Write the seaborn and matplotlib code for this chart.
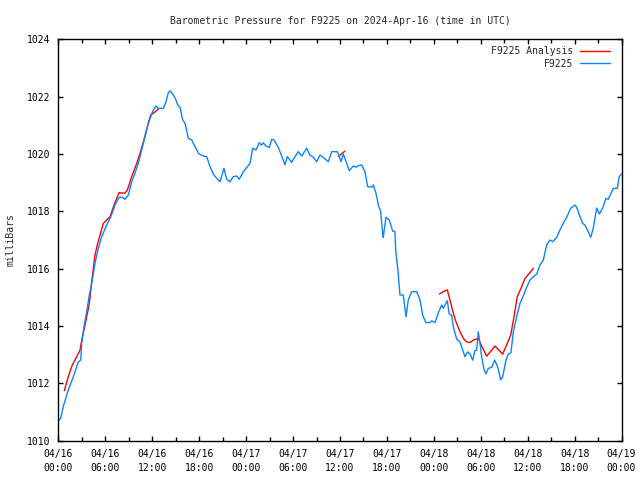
import pandas as pd
import numpy as np
import matplotlib.pyplot as plt
import seaborn as sns

# hours since 2024-04-16 00:00 UTC, pressure in mbar
obs_hours = [0.0, 0.28, 0.61, 1.25, 1.89, 2.53, 2.84, 2.97, 3.26, 3.61, 3.94, 4.25, 4.67, 5.09, 5.52,
             6.16, 6.68, 7.23, 7.74, 8.21, 8.50, 8.93, 9.36, 9.78, 10.20, 10.64, 11.06, 11.48,
             12.12, 12.47, 12.76, 13.40, 13.75, 14.04, 14.26, 14.68, 15.03, 15.24, 15.54, 15.88,
             16.18, 16.60, 17.03, 17.46, 17.97, 18.52, 18.95, 19.37, 19.80, 20.23, 20.65, 21.00,
             21.16, 21.51, 21.93, 22.35, 22.79, 23.12, 23.63, 24.49, 24.83, 25.26, 25.68, 25.98,
             26.19, 26.53, 26.96, 27.26, 27.56, 28.11, 28.54, 28.96, 29.26, 29.82, 30.11, 30.66,
             31.10, 31.74, 32.16, 32.51, 33.02, 33.44, 33.99, 34.50, 34.94, 35.65, 35.91, 36.13,
             36.42, 36.85, 37.19, 37.70, 38.04, 38.34, 38.77, 39.19, 39.54, 40.05, 40.26, 40.60,
             40.90, 41.20, 41.46, 41.53, 41.88, 42.30, 42.74, 43.03, 43.12, 43.41, 43.67, 44.09,
             44.44, 44.73, 45.17, 45.81, 46.23, 46.57, 46.99, 47.51, 47.72, 48.15, 48.57, 49.00,
             49.21, 49.72, 49.97, 50.28, 50.49, 50.92, 51.34, 51.69, 51.98, 52.33, 52.62, 52.97,
             53.26, 53.48, 53.68, 53.90, 54.12, 54.41, 54.67, 54.96, 55.40, 55.78, 56.16, 56.55,
             56.80, 57.23, 57.52, 57.86, 58.16, 58.59, 59.02, 59.44, 59.87, 60.29, 60.72, 61.15,
             61.57, 62.00, 62.43, 62.85, 63.20, 63.71, 64.13, 64.55, 64.99, 65.50, 66.05, 66.27,
             66.69, 67.03, 67.33, 67.75, 68.06, 68.39, 68.82, 69.16, 69.59, 70.01, 70.31, 70.61,
             70.95, 71.46, 71.71, 72.0]
obs_mbar = [1010.70, 1010.78, 1011.19, 1011.77, 1012.23, 1012.75, 1012.81, 1013.40, 1013.98, 1014.50,
            1015.08, 1015.49, 1016.19, 1016.71, 1017.11, 1017.52, 1017.81, 1018.22, 1018.49, 1018.49,
            1018.42, 1018.57, 1019.03, 1019.33, 1019.67, 1020.14, 1020.60, 1021.07, 1021.53, 1021.67,
            1021.59, 1021.59, 1021.82, 1022.14, 1022.20, 1022.06, 1021.88, 1021.71, 1021.63, 1021.19,
            1021.07, 1020.55, 1020.49, 1020.25, 1020.00, 1019.93, 1019.91, 1019.56, 1019.30, 1019.15,
            1019.03, 1019.35, 1019.50, 1019.12, 1019.03, 1019.21, 1019.23, 1019.12, 1019.38, 1019.67,
            1020.20, 1020.14, 1020.39, 1020.31, 1020.39, 1020.28, 1020.23, 1020.51, 1020.49, 1020.23,
            1019.93, 1019.62, 1019.91, 1019.71, 1019.85, 1020.08, 1019.93, 1020.20, 1019.96, 1019.91,
            1019.73, 1019.96, 1019.85, 1019.73, 1020.08, 1020.08, 1019.91, 1019.73, 1020.00, 1019.67,
            1019.42, 1019.58, 1019.54, 1019.59, 1019.62, 1019.38, 1018.86, 1018.84, 1018.92, 1018.63,
            1018.22, 1017.99, 1017.23, 1017.09, 1017.79, 1017.70, 1017.31, 1017.29, 1016.65, 1015.95,
            1015.08, 1015.08, 1014.32, 1014.91, 1015.20, 1015.20, 1014.91, 1014.38, 1014.12, 1014.12,
            1014.18, 1014.12, 1014.46, 1014.73, 1014.62, 1014.88, 1014.42, 1014.38, 1013.98, 1013.54,
            1013.45, 1013.16, 1012.93, 1013.10, 1013.02, 1012.81, 1013.14, 1013.16, 1013.80, 1013.40,
            1012.93, 1012.49, 1012.33, 1012.52, 1012.56, 1012.81, 1012.58, 1012.12, 1012.23, 1012.81,
            1013.02, 1013.07, 1013.80, 1014.32, 1014.79, 1015.05, 1015.35, 1015.60, 1015.72, 1015.81,
            1016.13, 1016.30, 1016.83, 1017.00, 1016.94, 1017.09, 1017.35, 1017.58, 1017.79, 1018.11,
            1018.22, 1018.14, 1017.81, 1017.58, 1017.52, 1017.29, 1017.09, 1017.41, 1018.11, 1017.91,
            1018.11, 1018.45, 1018.42, 1018.60, 1018.80, 1018.80, 1019.21, 1019.30]

# analysis runs (three separate pieces)
ana1_hours = [0.74, 1.25, 1.76, 2.33, 2.75, 2.97, 3.30, 3.61, 3.94, 4.25, 4.67, 4.99, 5.31, 5.73,
              6.59, 7.10, 7.74, 8.50, 8.80, 9.36, 10.00, 10.42, 10.93, 11.36, 11.79, 12.12, 12.76]
ana1_mbar = [1011.74, 1012.23, 1012.64, 1012.93, 1013.16, 1013.51, 1013.92, 1014.32, 1014.79, 1015.55,
             1016.48, 1016.86, 1017.17, 1017.58, 1017.81, 1018.22, 1018.65, 1018.63, 1018.74, 1019.21,
             1019.67, 1020.02, 1020.49, 1020.95, 1021.36, 1021.42, 1021.56]
ana2_hours = [35.78, 36.19, 36.64]
ana2_mbar = [1019.91, 1020.00, 1020.10]
ana3_hours = [48.70, 49.21, 49.72, 50.06, 50.49, 50.83, 51.34, 51.85, 52.20, 52.62, 53.04, 53.68,
              54.12, 54.76, 55.82, 56.80, 57.31, 57.83, 58.25, 58.67, 59.23, 59.65, 60.29, 60.72]
ana3_mbar = [1015.12, 1015.20, 1015.26, 1014.91, 1014.44, 1014.15, 1013.80, 1013.54, 1013.45, 1013.42,
             1013.51, 1013.57, 1013.30, 1012.95, 1013.30, 1013.02, 1013.34, 1013.69, 1014.32, 1015.02,
             1015.37, 1015.66, 1015.86, 1016.01]

tick_hours = list(range(0, 73, 6))
tick_labels = ['04/16\n00:00', '04/16\n06:00', '04/16\n12:00', '04/16\n18:00',
               '04/17\n00:00', '04/17\n06:00', '04/17\n12:00', '04/17\n18:00',
               '04/18\n00:00', '04/18\n06:00', '04/18\n12:00', '04/18\n18:00',
               '04/19\n00:00']

obs = pd.DataFrame({'hour': obs_hours, 'mbar': obs_mbar})
ana = pd.concat([
    pd.DataFrame({'hour': ana1_hours, 'mbar': ana1_mbar, 'run': 1}),
    pd.DataFrame({'hour': ana2_hours, 'mbar': ana2_mbar, 'run': 2}),
    pd.DataFrame({'hour': ana3_hours, 'mbar': ana3_mbar, 'run': 3}),
])

sns.set_style('ticks')
plt.rcParams['font.family'] = ['DejaVu Sans Mono']
plt.rcParams['font.size'] = 7

red = '#ff0000'
blue = '#0a84ff'

fig = plt.figure(figsize=(6.4, 4.8), dpi=100)
ax = fig.add_axes([0.0914, 0.0818, 0.8797, 0.8364])

sns.lineplot(data=ana, x='hour', y='mbar', units='run', estimator=None,
             color=red, linewidth=1.0, ax=ax)
sns.lineplot(data=obs, x='hour', y='mbar', color=blue, linewidth=1.0, ax=ax)

ax.set_xlim(0, 72)
ax.set_ylim(1010, 1024)
ax.set_xticks(tick_hours)
ax.set_xticklabels(tick_labels, linespacing=1.45)
ax.set_xticks(range(3, 72, 6), minor=True)
ax.set_yticks(range(1010, 1025, 2))
ax.tick_params(which='both', direction='in', top=True, right=True, width=1, colors='black',
               labelsize=7, pad=6)
ax.tick_params(which='major', length=3.6)
ax.tick_params(which='minor', length=3.0)
for s in ax.spines.values():
    s.set_linewidth(1)
    s.set_color('black')

ax.set_xlabel('')
ax.set_ylabel('milliBars', fontsize=7, labelpad=8)
ax.set_title('Barometric Pressure for F9225 on 2024-Apr-16 (time in UTC)', fontsize=7, pad=11)

handles = [plt.Line2D([], [], color=red, lw=1.0), plt.Line2D([], [], color=blue, lw=1.0)]
ax.legend(handles, ['F9225 Analysis', 'F9225'], loc='upper right', bbox_to_anchor=(0.991, 1.0),
          frameon=False, markerfirst=False, fontsize=7, handlelength=3.0, labelspacing=0.25,
          borderaxespad=0.3, handletextpad=0.7)

fig.savefig('out.png', dpi=100)
